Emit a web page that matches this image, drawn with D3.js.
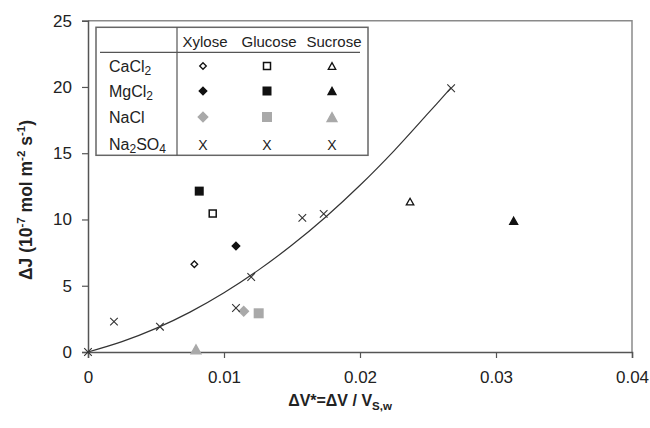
<!DOCTYPE html>
<html><head><meta charset="utf-8">
<script src="https://cdn.jsdelivr.net/npm/d3@7"></script>
<style>body{margin:0;background:#fff}svg{display:block}text{font-family:"Liberation Sans",Arial,sans-serif}</style>
</head><body><div id="chart"></div>
<script>
// ----- data -----
const salts = ["CaCl2", "MgCl2", "NaCl", "Na2SO4"];
const sugars = ["Xylose", "Glucose", "Sucrose"];
// [dV*, dJ] per salt, order Xylose, Glucose, Sucrose
const caCl2 = [[0.00782, 6.62], [0.00917, 10.45], [0.02368, 11.35]];
const mgCl2 = [[0.01088, 8.0], [0.00818, 12.14], [0.0313, 9.9]];
const naCl = [[0.01145, 3.07], [0.01255, 2.92], [0.00794, 0.2]];
const na2SO4 = [[0, 0], [0.00191, 2.29], [0.00529, 1.91], [0.01088, 3.32], [0.0120, 5.66],
                [0.01576, 10.12], [0.01733, 10.42], [0.0267, 19.9]];
// trend curve
const curveV = [0, 0.0025, 0.005, 0.0075, 0.01, 0.0125, 0.015, 0.0175, 0.02, 0.0225, 0.025, 0.0267];
const curveJ = [0, 0.78, 1.78, 3.01, 4.47, 6.16, 8.07, 10.21, 12.58, 15.18, 18.0, 19.95];
const xTicks = [0, 0.01, 0.02, 0.03, 0.04];
const yTicks = [0, 5, 10, 15, 20, 25];

// ----- layout -----
const W = 650, H = 428;
const svg = d3.select("#chart").append("svg").attr("width", W).attr("height", H);
const x = d3.scaleLinear().domain([0, 0.04]).range([88, 632]);
const y = d3.scaleLinear().domain([0, 25]).range([352, 20.7]);
const grey = "#a9a9a9", dark = "#111";

// plot border (top/right)
svg.append("path").attr("d", `M${x(0)},${y(25)}H${x(0.04)}V${y(0)}`)
  .attr("fill", "none").attr("stroke", "#8a8a8a").attr("stroke-width", 1.5);

// axes
const xAxis = svg.append("g").attr("transform", `translate(0,${y(0)})`)
  .call(d3.axisBottom(x).tickValues(xTicks).tickFormat(d => d === 0 ? "0" : d3.format(".2f")(d)).tickSizeOuter(0).tickSize(6).tickPadding(13));
const yAxis = svg.append("g").attr("transform", `translate(${x(0)},0)`)
  .call(d3.axisLeft(y).tickValues(yTicks).tickSizeOuter(0).tickSize(6).tickPadding(10));
[xAxis, yAxis].forEach(g => {
  g.select(".domain").attr("stroke", "#555").attr("stroke-width", 1.5);
  g.selectAll(".tick line").attr("stroke", "#555").attr("stroke-width", 1.2);
  g.selectAll(".tick text").attr("font-size", 17).attr("fill", "#222")
    .attr("font-family", "'Liberation Sans', Arial, sans-serif");
});

// trend curve
const pts = curveV.map((v, i) => [v, curveJ[i]]);
svg.append("path").datum(pts)
  .attr("d", d3.line().x(d => x(d[0])).y(d => y(d[1])).curve(d3.curveCatmullRom))
  .attr("fill", "none").attr("stroke", "#333").attr("stroke-width", 1.2);

// marker helpers
function diamond(g, cx, cy, r, fill, stroke) {
  g.append("path").attr("d", `M${cx},${cy - r}L${cx + r},${cy}L${cx},${cy + r}L${cx - r},${cy}Z`)
    .attr("fill", fill).attr("stroke", stroke).attr("stroke-width", 1.3);
}
function square(g, cx, cy, s, fill, stroke) {
  g.append("rect").attr("x", cx - s / 2).attr("y", cy - s / 2).attr("width", s).attr("height", s)
    .attr("fill", fill).attr("stroke", stroke).attr("stroke-width", 1.5);
}
function triangle(g, cx, cy, s, fill, stroke) {
  const h = s * 0.9;
  g.append("path").attr("d", `M${cx},${cy - h / 2}L${cx + s / 2},${cy + h / 2}L${cx - s / 2},${cy + h / 2}Z`)
    .attr("fill", fill).attr("stroke", stroke).attr("stroke-width", 1.3).attr("stroke-linejoin", "miter");
}
function cross(g, cx, cy, r) {
  g.append("path").attr("d", `M${cx - r},${cy - r}L${cx + r},${cy + r}M${cx - r},${cy + r}L${cx + r},${cy - r}`)
    .attr("stroke", "#333").attr("stroke-width", 1.1).attr("fill", "none");
}
const drawers = [
  [(g, a, b) => diamond(g, a, b, 3.3, "#fff", dark), (g, a, b) => square(g, a, b, 7, "#fff", dark), (g, a, b) => triangle(g, a, b, 7.5, "#fff", dark)],
  [(g, a, b) => diamond(g, a, b, 3.8, dark, dark), (g, a, b) => square(g, a, b, 7.5, dark, dark), (g, a, b) => triangle(g, a, b, 8, dark, dark)],
  [(g, a, b) => diamond(g, a, b, 4.8, grey, grey), (g, a, b) => square(g, a, b, 8.5, grey, grey), (g, a, b) => triangle(g, a, b, 10, grey, grey)]
];

const marks = svg.append("g");
[caCl2, mgCl2, naCl].forEach((arr, si) => {
  arr.forEach((d, k) => drawers[si][k](marks, x(d[0]), y(d[1])));
});
na2SO4.forEach(d => cross(marks, x(d[0]), y(d[1]), 3.8));

// legend
const lg = svg.append("g");
lg.append("rect").attr("x", 96).attr("y", 27.3).attr("width", 272).attr("height", 128)
  .attr("fill", "#fff").attr("stroke", "#666").attr("stroke-width", 1.5);
lg.append("line").attr("x1", 177).attr("x2", 177).attr("y1", 27.3).attr("y2", 155.3)
  .attr("stroke", "#555").attr("stroke-width", 1.2);
lg.append("line").attr("x1", 100).attr("x2", 360).attr("y1", 52.3).attr("y2", 52.3)
  .attr("stroke", "#555").attr("stroke-width", 1.2);
const colX = [205, 269, 334];
sugars.forEach((s, i) => lg.append("text").attr("x", colX[i]).attr("y", 47).attr("text-anchor", "middle")
  .attr("font-size", 15).attr("fill", "#222").text(s));
const rowY = [66, 91, 117, 144];
const rowLabels = [["CaCl", "2", ""], ["MgCl", "2", ""], ["NaCl", "", ""], ["Na", "2", "SO", "4"]];
rowLabels.forEach((parts, r) => {
  const t = lg.append("text").attr("x", 109).attr("y", rowY[r] + 5.5).attr("font-size", 16).attr("fill", "#222");
  parts.forEach((p, i) => {
    if (!p) return;
    const sub = i % 2 === 1;
    t.append("tspan").attr("font-size", sub ? 12 : 16).attr("dy", sub ? 3 : (i > 0 ? -3 : 0)).text(p);
  });
});
for (let si = 0; si < 3; si++) {
  for (let k = 0; k < 3; k++) {
    drawers[si][k](lg, colX[k] - 2, rowY[si]);
  }
}
sugars.forEach((s, k) => lg.append("text").attr("x", colX[k] - 2).attr("y", rowY[3] + 5.5)
  .attr("text-anchor", "middle").attr("font-size", 14).attr("fill", "#222").text("X"));

// axis titles
const yt = svg.append("text").attr("transform", "translate(32,200) rotate(-90)")
  .attr("text-anchor", "middle").attr("font-size", 17.5).attr("font-weight", "bold").attr("fill", "#222");
yt.append("tspan").text("ΔJ (10");
yt.append("tspan").attr("font-size", 11.5).attr("dy", -7).text("-7");
yt.append("tspan").attr("dy", 7).text(" mol m");
yt.append("tspan").attr("font-size", 11.5).attr("dy", -7).text("-2");
yt.append("tspan").attr("dy", 7).text(" s");
yt.append("tspan").attr("font-size", 11.5).attr("dy", -7).text("-1");
yt.append("tspan").attr("dy", 7).text(")");

const xt = svg.append("text").attr("x", 340).attr("y", 406).attr("text-anchor", "middle")
  .attr("font-size", 16).attr("font-weight", "bold").attr("fill", "#222");
xt.append("tspan").text("ΔV*=ΔV / V");
xt.append("tspan").attr("font-size", 11.5).attr("dy", 4).text("S,w");
</script>
</body></html>
